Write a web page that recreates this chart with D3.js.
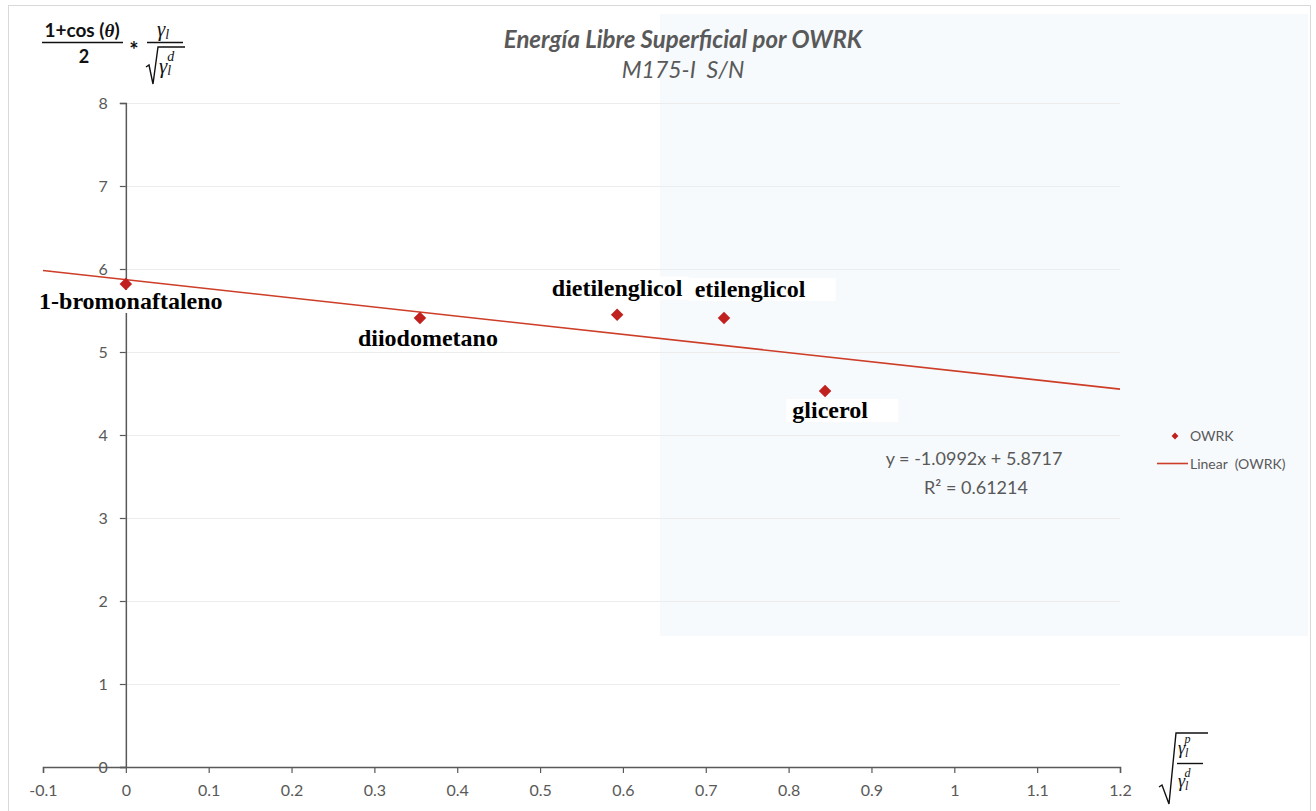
<!DOCTYPE html>
<html>
<head>
<meta charset="utf-8">
<script src="https://cdn.jsdelivr.net/npm/d3@7"></script>
<style>
  html, body { margin: 0; padding: 0; background: #ffffff; }
  svg { display: block; }
  .pre { white-space: pre; }
</style>
</head>
<body>
<svg id="chart" width="1316" height="811"></svg>
<script>
// OWRK surface free energy data (x = sqrt(γp/γd), y = (1+cosθ)/2 · γ/sqrt(γd))
const liquids = ["1-bromonaftaleno", "diiodometano", "dietilenglicol", "etilenglicol", "glicerol"];
const xValues = [0.000, 0.355, 0.593, 0.722, 0.844];
const yValues = [5.82, 5.41, 5.45, 5.41, 4.53];

// Linear trendline from the fit
const slope = -1.0992;
const intercept = 5.8717;
const rSquared = 0.61214;

const xTicks = [-0.1, 0, 0.1, 0.2, 0.3, 0.4, 0.5, 0.6, 0.7, 0.8, 0.9, 1, 1.1, 1.2];
const yTicks = [0, 1, 2, 3, 4, 5, 6, 7, 8];

const titleText = "Energía Libre Superficial por OWRK";
const subtitleText = "M175-I  S/N";

const svg = d3.select("#chart");
const axisGray = "#595959";
const markRed = "#c0201e";
const lineRed = "#cd3d27";
const sansFont = "Lato, 'Open Sans', sans-serif";
const serifFont = "'Liberation Serif', 'DejaVu Serif', serif";

const x = d3.scaleLinear().domain([-0.1, 1.2]).range([43, 1120]);
const y = d3.scaleLinear().domain([0, 8]).range([767, 103]);

// chart area frame and faint tinted panel
svg.append("rect").attr("x", 8.5).attr("y", 5.5).attr("width", 1302).attr("height", 812)
  .attr("fill", "#ffffff").attr("stroke", "#d9d9d9").attr("stroke-width", 1);
svg.append("rect").attr("x", 660).attr("y", 14).attr("width", 648).attr("height", 622)
  .attr("fill", "#f7fafd");

// horizontal gridlines
svg.append("g").selectAll("line").data(yTicks.filter(d => d > 0)).join("line")
  .attr("x1", x(0)).attr("x2", x(1.2))
  .attr("y1", d => y(d) + 0.5).attr("y2", d => y(d) + 0.5)
  .attr("stroke", "#ececec").attr("stroke-width", 1);

// y axis through x = 0
const yAxis = d3.axisLeft(y).tickValues(yTicks).tickFormat(d3.format("d")).tickSizeOuter(0).tickSize(6).tickPadding(12);
const gy = svg.append("g").attr("transform", `translate(${x(0)},0)`).call(yAxis);
gy.select(".domain").attr("stroke", axisGray).attr("stroke-width", 1.5);
gy.selectAll(".tick line").attr("stroke", axisGray).attr("stroke-width", 1.2);
gy.selectAll(".tick text").attr("fill", axisGray).attr("font-family", sansFont).attr("font-size", 16);

// x axis along y = 0
const xAxis = d3.axisBottom(x).tickValues(xTicks).tickFormat(d => String(+d.toFixed(1))).tickSizeOuter(0).tickSize(6).tickPadding(12);
const gx = svg.append("g").attr("transform", `translate(0,${y(0)})`).call(xAxis);
gx.select(".domain").attr("stroke", axisGray).attr("stroke-width", 1.5);
gx.selectAll(".tick line").attr("stroke", axisGray).attr("stroke-width", 1.2);
gx.selectAll(".tick text").attr("fill", axisGray).attr("font-family", sansFont).attr("font-size", 16);

// label layers: white boxes below the series, text above it
const boxLayer = svg.append("g");
const seriesLayer = svg.append("g");
const textLayer = svg.append("g");

// trendline
const xr = x.domain();
seriesLayer.append("line")
  .attr("x1", x(xr[0])).attr("y1", y(slope * xr[0] + intercept))
  .attr("x2", x(xr[1])).attr("y2", y(slope * xr[1] + intercept))
  .attr("stroke", lineRed).attr("stroke-width", 1.6);

// data points as diamonds
const diamond = d3.symbol().type(d3.symbolDiamond2).size(100);
seriesLayer.selectAll("path").data(xValues).join("path")
  .attr("d", diamond)
  .attr("transform", (d, i) => `translate(${x(d)},${y(yValues[i])})`)
  .attr("fill", markRed);

// point labels with white boxes
const labelOffsets = [
  { dx: 5, dy: 17, padR: 30 },
  { dx: 8, dy: 20, padR: 6 },
  { dx: 0, dy: -27, padR: 6 },
  { dx: 26, dy: -29, padR: 30 },
  { dx: 5, dy: 19, padR: 30 }
];
liquids.forEach((name, i) => {
  const cx = x(xValues[i]) + labelOffsets[i].dx;
  const cy = y(yValues[i]) + labelOffsets[i].dy;
  const t = textLayer.append("text")
    .attr("x", cx).attr("y", cy)
    .attr("text-anchor", "middle").attr("dominant-baseline", "central")
    .attr("font-family", serifFont).attr("font-weight", "bold").attr("font-size", 24)
    .attr("fill", "#000000").text(name);
  const bb = t.node().getBBox();
  boxLayer.append("rect")
    .attr("x", bb.x - 6).attr("y", bb.y + 2)
    .attr("width", bb.width + 6 + labelOffsets[i].padR).attr("height", bb.height - 3)
    .attr("fill", "#ffffff");
});

// title
svg.append("text").attr("x", 683).attr("y", 48).attr("text-anchor", "middle")
  .attr("font-family", sansFont).attr("font-style", "italic").attr("font-weight", "bold")
  .attr("font-size", 24).attr("fill", axisGray).text(titleText);
svg.append("text").attr("class", "pre").attr("x", 683).attr("y", 78).attr("text-anchor", "middle")
  .attr("font-family", sansFont).attr("font-style", "italic")
  .attr("font-size", 23).attr("fill", axisGray).text(subtitleText);

// trendline equation
const eq = svg.append("g").attr("font-family", sansFont).attr("font-size", 18).attr("fill", axisGray).attr("text-anchor", "middle");
eq.append("text").attr("x", 974).attr("y", 465).text(`y = ${slope}x + ${intercept}`);
eq.append("text").attr("x", 976).attr("y", 494).text(`R² = ${rSquared}`);

// legend
const lg = svg.append("g").attr("font-family", sansFont).attr("font-size", 14).attr("fill", axisGray);
lg.append("path").attr("d", d3.symbol().type(d3.symbolDiamond2).size(30)).attr("transform", "translate(1175,436)").attr("fill", markRed);
lg.append("text").attr("x", 1190).attr("y", 441).text("OWRK");
lg.append("line").attr("x1", 1157).attr("x2", 1188).attr("y1", 463.5).attr("y2", 463.5).attr("stroke", lineRed).attr("stroke-width", 1.6);
lg.append("text").attr("class", "pre").attr("x", 1190).attr("y", 469).text("Linear  (OWRK)");

// y-axis label: (1+cos(θ))/2 * γl / sqrt(γl^d)
const ml = svg.append("g").attr("fill", "#111111");
const nm = ml.append("text").attr("x", 82).attr("y", 37).attr("text-anchor", "middle")
  .attr("font-family", sansFont).attr("font-weight", "bold").attr("font-size", 19);
nm.append("tspan").text("1+cos (");
nm.append("tspan").attr("font-family", serifFont).attr("font-style", "italic").text("θ");
nm.append("tspan").text(")");
ml.append("line").attr("x1", 42).attr("x2", 123).attr("y1", 42.5).attr("y2", 42.5).attr("stroke", "#111").attr("stroke-width", 1.6);
ml.append("text").attr("x", 84).attr("y", 63).attr("text-anchor", "middle")
  .attr("font-family", sansFont).attr("font-weight", "bold").attr("font-size", 18).text("2");
ml.append("text").attr("x", 134).attr("y", 58).attr("text-anchor", "middle")
  .attr("font-family", sansFont).attr("font-weight", "bold").attr("font-size", 22).text("*");
const gnum = ml.append("text").attr("x", 163).attr("y", 36).attr("text-anchor", "middle")
  .attr("font-family", serifFont).attr("font-style", "italic").attr("font-size", 21);
gnum.append("tspan").text("γ");
gnum.append("tspan").attr("font-size", 14).attr("dy", 3).text("l");
ml.append("line").attr("x1", 147).attr("x2", 183).attr("y1", 42.5).attr("y2", 42.5).attr("stroke", "#111").attr("stroke-width", 1.6);
ml.append("path").attr("d", "M146,67 L149,65 L153,84 L158,47 L185,47").attr("fill", "none").attr("stroke", "#111").attr("stroke-width", 1.4);
const gden = ml.append("text").attr("x", 159).attr("y", 73)
  .attr("font-family", serifFont).attr("font-style", "italic").attr("font-size", 21);
gden.append("tspan").text("γ");
gden.append("tspan").attr("font-size", 14).attr("dy", 2).text("l");
gden.append("tspan").attr("font-size", 14).attr("dx", -4).attr("dy", -14).text("d");

// x-axis label: sqrt(γl^p / γl^d)
const xl = svg.append("g").attr("fill", "#111111");
xl.append("path").attr("d", "M1159,787 L1162,785 L1169,804 L1176,733 L1208,733").attr("fill", "none").attr("stroke", "#111").attr("stroke-width", 1.4);
const xn = xl.append("text").attr("x", 1178).attr("y", 754)
  .attr("font-family", serifFont).attr("font-style", "italic").attr("font-size", 18);
xn.append("tspan").text("γ");
xn.append("tspan").attr("font-size", 12).attr("dy", 3).text("l");
xn.append("tspan").attr("font-size", 12).attr("dx", -4).attr("dy", -14).text("p");
xl.append("line").attr("x1", 1177).attr("x2", 1203).attr("y1", 763.5).attr("y2", 763.5).attr("stroke", "#111").attr("stroke-width", 1.4);
const xd = xl.append("text").attr("x", 1178).attr("y", 787)
  .attr("font-family", serifFont).attr("font-style", "italic").attr("font-size", 18);
xd.append("tspan").text("γ");
xd.append("tspan").attr("font-size", 12).attr("dy", 3).text("l");
xd.append("tspan").attr("font-size", 12).attr("dx", -4).attr("dy", -13).text("d");
</script>
</body>
</html>
